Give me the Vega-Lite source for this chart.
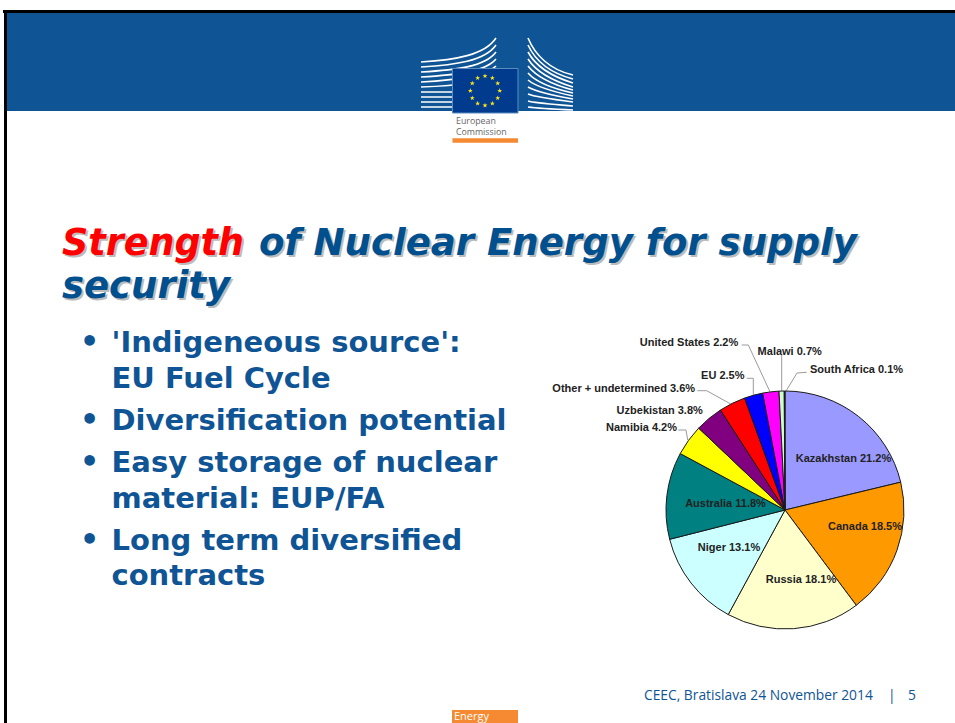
{
"$schema":"https://vega.github.io/schema/vega-lite/v6.json",
"width":955,"height":723,"padding":0,"autosize":{"type":"none"},"background":"white",
"config":{"view":{"stroke":null},"axis":{"disable":true},"text":{"font":"DejaVu Sans"}},
"datasets":{"one":[{"slide":"CEEC 2014"}],
"shares":[
{"rank":1,"country":"Kazakhstan","share":21.2,"label":"Kazakhstan 21.2%"},
{"rank":2,"country":"Canada","share":18.5,"label":"Canada 18.5%"},
{"rank":3,"country":"Russia","share":18.1,"label":"Russia 18.1%"},
{"rank":4,"country":"Niger","share":13.1,"label":"Niger 13.1%"},
{"rank":5,"country":"Australia","share":11.8,"label":"Australia 11.8%"},
{"rank":6,"country":"Namibia","share":4.2,"label":"Namibia 4.2%"},
{"rank":7,"country":"Uzbekistan","share":3.8,"label":"Uzbekistan 3.8%"},
{"rank":8,"country":"Other + undetermined","share":3.6,"label":"Other + undetermined 3.6%"},
{"rank":9,"country":"EU","share":2.5,"label":"EU 2.5%"},
{"rank":10,"country":"United States","share":2.2,"label":"United States 2.2%"},
{"rank":11,"country":"Malawi","share":0.7,"label":"Malawi 0.7%"},
{"rank":12,"country":"South Africa","share":0.1,"label":"South Africa 0.1%"}
]},
"data":{"name":"one"},
"layer":[
{"mark":{"type":"rect","fill":"#0f5494"},"encoding":{"x":{"datum":6,"type":"quantitative","scale":{"domain":[0,955],"range":[0,955],"nice":false,"zero":false}},"x2":{"datum":955},"y":{"datum":13,"type":"quantitative","scale":{"domain":[0,723],"range":[0,723],"nice":false,"zero":false}},"y2":{"datum":111}}},
{"mark":{"type":"rect","fill":"black"},"encoding":{"x":{"datum":3,"type":"quantitative"},"x2":{"datum":955},"y":{"datum":10,"type":"quantitative"},"y2":{"datum":13}}},
{"mark":{"type":"rect","fill":"black"},"encoding":{"x":{"datum":4,"type":"quantitative"},"x2":{"datum":7},"y":{"datum":10,"type":"quantitative"},"y2":{"datum":723}}},
{"mark":{"type":"point","filled":false,"opacity":1,"stroke":"white","strokeWidth":1.6,"size":4,"shape":"M421,62C455,60 485,55 496,38M421,67C455,65 485,61 496,45M421,72C455,70 485,67 496,52M421,77C455,75 485,72 496,59M421,82C455,80 485,77 496,66M421,87C455,86 485,82 496,73M421,92H452M421,97H452M421,102H452M421,107H452M528,38C535,55 550,70 573,75M528,45C535,60 550,73 573,79M528,52C535,65 550,76 573,83M528,59C535,70 550,80 573,87M528,66C535,75 550,84 573,90M528,73C535,81 550,88 573,93M528,80C535,86 550,91 573,96M528,87C535,91 550,95 573,99M528,94C535,97 550,99 573,102M528,101C535,103 550,104 573,106M528,107C535,108 550,109 573,110"},"encoding":{"x":{"datum":0,"type":"quantitative"},"y":{"datum":0,"type":"quantitative"}}},
{"mark":{"type":"rect","fill":"#003b8e","stroke":"#5a8cc0","strokeWidth":1},"encoding":{"x":{"datum":452.5,"type":"quantitative"},"x2":{"datum":518},"y":{"datum":68.5,"type":"quantitative"},"y2":{"datum":113}}},
{"mark":{"type":"point","filled":true,"opacity":1,"fill":"#ffe81a","strokeWidth":0,"size":4,"shape":"M0,-17.3l.6,1.8 1.9,0 -1.5,1.1 .6,1.8 -1.6,-1.1 -1.6,1.1 .6,-1.8 -1.5,-1.1 1.9,0zM7.35,-15.33l.6,1.8 1.9,0 -1.5,1.1 .6,1.8 -1.6,-1.1 -1.6,1.1 .6,-1.8 -1.5,-1.1 1.9,0zM12.73,-9.95l.6,1.8 1.9,0 -1.5,1.1 .6,1.8 -1.6,-1.1 -1.6,1.1 .6,-1.8 -1.5,-1.1 1.9,0zM14.7,-2.6l.6,1.8 1.9,0 -1.5,1.1 .6,1.8 -1.6,-1.1 -1.6,1.1 .6,-1.8 -1.5,-1.1 1.9,0zM12.73,4.75l.6,1.8 1.9,0 -1.5,1.1 .6,1.8 -1.6,-1.1 -1.6,1.1 .6,-1.8 -1.5,-1.1 1.9,0zM7.35,10.13l.6,1.8 1.9,0 -1.5,1.1 .6,1.8 -1.6,-1.1 -1.6,1.1 .6,-1.8 -1.5,-1.1 1.9,0zM0,12.1l.6,1.8 1.9,0 -1.5,1.1 .6,1.8 -1.6,-1.1 -1.6,1.1 .6,-1.8 -1.5,-1.1 1.9,0zM-7.35,10.13l.6,1.8 1.9,0 -1.5,1.1 .6,1.8 -1.6,-1.1 -1.6,1.1 .6,-1.8 -1.5,-1.1 1.9,0zM-12.73,4.75l.6,1.8 1.9,0 -1.5,1.1 .6,1.8 -1.6,-1.1 -1.6,1.1 .6,-1.8 -1.5,-1.1 1.9,0zM-14.7,-2.6l.6,1.8 1.9,0 -1.5,1.1 .6,1.8 -1.6,-1.1 -1.6,1.1 .6,-1.8 -1.5,-1.1 1.9,0zM-12.73,-9.95l.6,1.8 1.9,0 -1.5,1.1 .6,1.8 -1.6,-1.1 -1.6,1.1 .6,-1.8 -1.5,-1.1 1.9,0zM-7.35,-15.33l.6,1.8 1.9,0 -1.5,1.1 .6,1.8 -1.6,-1.1 -1.6,1.1 .6,-1.8 -1.5,-1.1 1.9,0z"},"encoding":{"x":{"datum":485,"type":"quantitative"},"y":{"datum":90.7,"type":"quantitative"}}},
{"mark":{"type":"text","align":"left","baseline":"alphabetic","font":"Open Sans","fontSize":8.8,"fill":"#666666"},"encoding":{"x":{"datum":456,"type":"quantitative"},"y":{"datum":124,"type":"quantitative"},"text":{"value":"European"}}},
{"mark":{"type":"text","align":"left","baseline":"alphabetic","font":"Open Sans","fontSize":8.8,"fill":"#666666"},"encoding":{"x":{"datum":456,"type":"quantitative"},"y":{"datum":135,"type":"quantitative"},"text":{"value":"Commission"}}},
{"mark":{"type":"rect","fill":"#f58a32"},"encoding":{"x":{"datum":452.5,"type":"quantitative"},"x2":{"datum":518},"y":{"datum":138.3,"type":"quantitative"},"y2":{"datum":142.7}}},

{"mark":{"type":"text","align":"left","baseline":"alphabetic","fontSize":36.5,"fontWeight":"bold","fontStyle":"italic","fill":"#bcbcbc","dx":2,"dy":2},"encoding":{"x":{"datum":62,"type":"quantitative"},"y":{"datum":255,"type":"quantitative"},"text":{"value":"Strength"}}},
{"mark":{"type":"text","align":"left","baseline":"alphabetic","fontSize":37.1,"fontWeight":"bold","fontStyle":"italic","fill":"#bcbcbc","dx":2,"dy":2},"encoding":{"x":{"datum":259,"type":"quantitative"},"y":{"datum":255,"type":"quantitative"},"text":{"value":"of Nuclear Energy for supply"}}},
{"mark":{"type":"text","align":"left","baseline":"alphabetic","fontSize":37,"fontWeight":"bold","fontStyle":"italic","fill":"#bcbcbc","dx":2,"dy":2},"encoding":{"x":{"datum":62,"type":"quantitative"},"y":{"datum":298,"type":"quantitative"},"text":{"value":"security"}}},
{"mark":{"type":"text","align":"left","baseline":"alphabetic","fontSize":36.5,"fontWeight":"bold","fontStyle":"italic","fill":"#ff0000"},"encoding":{"x":{"datum":62,"type":"quantitative"},"y":{"datum":255,"type":"quantitative"},"text":{"value":"Strength"}}},
{"mark":{"type":"text","align":"left","baseline":"alphabetic","fontSize":37.1,"fontWeight":"bold","fontStyle":"italic","fill":"#00508f"},"encoding":{"x":{"datum":259,"type":"quantitative"},"y":{"datum":255,"type":"quantitative"},"text":{"value":"of Nuclear Energy for supply"}}},
{"mark":{"type":"text","align":"left","baseline":"alphabetic","fontSize":37,"fontWeight":"bold","fontStyle":"italic","fill":"#00508f"},"encoding":{"x":{"datum":62,"type":"quantitative"},"y":{"datum":298,"type":"quantitative"},"text":{"value":"security"}}},

{"mark":{"type":"text","align":"left","baseline":"alphabetic","fontSize":30,"fontWeight":"bold","fill":"#0f5494"},"encoding":{"x":{"datum":80,"type":"quantitative"},"y":{"datum":352,"type":"quantitative"},"text":{"value":"•"}}},
{"mark":{"type":"text","align":"left","baseline":"alphabetic","fontSize":30,"fontWeight":"bold","fill":"#0f5494"},"encoding":{"x":{"datum":80,"type":"quantitative"},"y":{"datum":430,"type":"quantitative"},"text":{"value":"•"}}},
{"mark":{"type":"text","align":"left","baseline":"alphabetic","fontSize":30,"fontWeight":"bold","fill":"#0f5494"},"encoding":{"x":{"datum":80,"type":"quantitative"},"y":{"datum":472,"type":"quantitative"},"text":{"value":"•"}}},
{"mark":{"type":"text","align":"left","baseline":"alphabetic","fontSize":30,"fontWeight":"bold","fill":"#0f5494"},"encoding":{"x":{"datum":80,"type":"quantitative"},"y":{"datum":550,"type":"quantitative"},"text":{"value":"•"}}},
{"mark":{"type":"text","align":"left","baseline":"alphabetic","fontSize":29,"fontWeight":"bold","fill":"#0f5494"},"encoding":{"x":{"datum":111.5,"type":"quantitative"},"y":{"datum":352,"type":"quantitative"},"text":{"value":"'Indigeneous source':"}}},
{"mark":{"type":"text","align":"left","baseline":"alphabetic","fontSize":29,"fontWeight":"bold","fill":"#0f5494"},"encoding":{"x":{"datum":111.5,"type":"quantitative"},"y":{"datum":388,"type":"quantitative"},"text":{"value":"EU Fuel Cycle"}}},
{"mark":{"type":"text","align":"left","baseline":"alphabetic","fontSize":29,"fontWeight":"bold","fill":"#0f5494"},"encoding":{"x":{"datum":111.5,"type":"quantitative"},"y":{"datum":430,"type":"quantitative"},"text":{"value":"Diversification potential"}}},
{"mark":{"type":"text","align":"left","baseline":"alphabetic","fontSize":29,"fontWeight":"bold","fill":"#0f5494"},"encoding":{"x":{"datum":111.5,"type":"quantitative"},"y":{"datum":472,"type":"quantitative"},"text":{"value":"Easy storage of nuclear"}}},
{"mark":{"type":"text","align":"left","baseline":"alphabetic","fontSize":29,"fontWeight":"bold","fill":"#0f5494"},"encoding":{"x":{"datum":111.5,"type":"quantitative"},"y":{"datum":508,"type":"quantitative"},"text":{"value":"material: EUP/FA"}}},
{"mark":{"type":"text","align":"left","baseline":"alphabetic","fontSize":29,"fontWeight":"bold","fill":"#0f5494"},"encoding":{"x":{"datum":111.5,"type":"quantitative"},"y":{"datum":550,"type":"quantitative"},"text":{"value":"Long term diversified"}}},
{"mark":{"type":"text","align":"left","baseline":"alphabetic","fontSize":29,"fontWeight":"bold","fill":"#0f5494"},"encoding":{"x":{"datum":111.5,"type":"quantitative"},"y":{"datum":585,"type":"quantitative"},"text":{"value":"contracts"}}},

{"mark":{"type":"point","filled":false,"opacity":1,"stroke":"#9a9a9a","strokeWidth":1,"size":4,"shape":"M741.7,345H748.3L770.7,393.3M781.7,355V393M806.7,372.3L797,373L785,392.7M746.7,378.3H753.3V396M697.3,390.7H706.7L730.7,404M678.3,430H686L687.7,440"},"encoding":{"x":{"datum":0,"type":"quantitative"},"y":{"datum":0,"type":"quantitative"}}},

{"data":{"name":"shares"},"mark":{"type":"arc","outerRadius":119,"stroke":"#1a1a1a","strokeWidth":1},"encoding":{
"x":{"datum":785,"type":"quantitative"},"y":{"datum":510,"type":"quantitative"},
"theta":{"field":"share","type":"quantitative","stack":true},
"order":{"field":"rank","type":"quantitative"},
"color":{"field":"country","type":"nominal","legend":null,"scale":{"domain":["Kazakhstan","Canada","Russia","Niger","Australia","Namibia","Uzbekistan","Other + undetermined","EU","United States","Malawi","South Africa"],"range":["#9999ff","#ff9900","#ffffcc","#ccffff","#008080","#ffff00","#800080","#ff0000","#0000ff","#ff00ff","#ccffcc","#333333"]}}}},

{"data":{"name":"shares"},"transform":[{"filter":{"field":"rank","equal":1}}],"mark":{"type":"text","font":"Liberation Sans","fontWeight":"bold","fontSize":11,"fill":"#222222"},"encoding":{"x":{"datum":843.5,"type":"quantitative"},"y":{"datum":459.3,"type":"quantitative"},"text":{"field":"label"}}},
{"data":{"name":"shares"},"transform":[{"filter":{"field":"rank","equal":2}}],"mark":{"type":"text","font":"Liberation Sans","fontWeight":"bold","fontSize":11,"fill":"#222222"},"encoding":{"x":{"datum":865,"type":"quantitative"},"y":{"datum":527.3,"type":"quantitative"},"text":{"field":"label"}}},
{"data":{"name":"shares"},"transform":[{"filter":{"field":"rank","equal":3}}],"mark":{"type":"text","font":"Liberation Sans","fontWeight":"bold","fontSize":11,"fill":"#222222"},"encoding":{"x":{"datum":801,"type":"quantitative"},"y":{"datum":580,"type":"quantitative"},"text":{"field":"label"}}},
{"data":{"name":"shares"},"transform":[{"filter":{"field":"rank","equal":4}}],"mark":{"type":"text","font":"Liberation Sans","fontWeight":"bold","fontSize":11,"fill":"#222222"},"encoding":{"x":{"datum":729,"type":"quantitative"},"y":{"datum":548,"type":"quantitative"},"text":{"field":"label"}}},
{"data":{"name":"shares"},"transform":[{"filter":{"field":"rank","equal":5}}],"mark":{"type":"text","font":"Liberation Sans","fontWeight":"bold","fontSize":11,"fill":"#222222"},"encoding":{"x":{"datum":725.5,"type":"quantitative"},"y":{"datum":503.7,"type":"quantitative"},"text":{"field":"label"}}},
{"data":{"name":"shares"},"transform":[{"filter":{"field":"rank","equal":6}}],"mark":{"type":"text","font":"Liberation Sans","fontWeight":"bold","fontSize":11,"fill":"#222222"},"encoding":{"x":{"datum":641.5,"type":"quantitative"},"y":{"datum":428,"type":"quantitative"},"text":{"field":"label"}}},
{"data":{"name":"shares"},"transform":[{"filter":{"field":"rank","equal":7}}],"mark":{"type":"text","font":"Liberation Sans","fontWeight":"bold","fontSize":11,"fill":"#222222"},"encoding":{"x":{"datum":659.7,"type":"quantitative"},"y":{"datum":411,"type":"quantitative"},"text":{"field":"label"}}},
{"data":{"name":"shares"},"transform":[{"filter":{"field":"rank","equal":8}}],"mark":{"type":"text","font":"Liberation Sans","fontWeight":"bold","fontSize":11,"fill":"#222222"},"encoding":{"x":{"datum":623.7,"type":"quantitative"},"y":{"datum":388.7,"type":"quantitative"},"text":{"field":"label"}}},
{"data":{"name":"shares"},"transform":[{"filter":{"field":"rank","equal":9}}],"mark":{"type":"text","font":"Liberation Sans","fontWeight":"bold","fontSize":11,"fill":"#222222"},"encoding":{"x":{"datum":722.8,"type":"quantitative"},"y":{"datum":375.7,"type":"quantitative"},"text":{"field":"label"}}},
{"data":{"name":"shares"},"transform":[{"filter":{"field":"rank","equal":10}}],"mark":{"type":"text","font":"Liberation Sans","fontWeight":"bold","fontSize":11,"fill":"#222222"},"encoding":{"x":{"datum":689,"type":"quantitative"},"y":{"datum":342.7,"type":"quantitative"},"text":{"field":"label"}}},
{"data":{"name":"shares"},"transform":[{"filter":{"field":"rank","equal":11}}],"mark":{"type":"text","font":"Liberation Sans","fontWeight":"bold","fontSize":11,"fill":"#222222"},"encoding":{"x":{"datum":789.7,"type":"quantitative"},"y":{"datum":351.7,"type":"quantitative"},"text":{"field":"label"}}},
{"data":{"name":"shares"},"transform":[{"filter":{"field":"rank","equal":12}}],"mark":{"type":"text","font":"Liberation Sans","fontWeight":"bold","fontSize":11,"fill":"#222222"},"encoding":{"x":{"datum":856.5,"type":"quantitative"},"y":{"datum":370,"type":"quantitative"},"text":{"field":"label"}}},

{"mark":{"type":"text","align":"left","baseline":"alphabetic","font":"Open Sans","fontSize":13.8,"fill":"#0f5494"},"encoding":{"x":{"datum":644,"type":"quantitative"},"y":{"datum":700,"type":"quantitative"},"text":{"value":"CEEC, Bratislava 24 November 2014"}}},
{"mark":{"type":"text","align":"left","baseline":"alphabetic","font":"Open Sans","fontSize":13.8,"fill":"#0f5494"},"encoding":{"x":{"datum":888,"type":"quantitative"},"y":{"datum":700,"type":"quantitative"},"text":{"value":"|"}}},
{"mark":{"type":"text","align":"left","baseline":"alphabetic","font":"Open Sans","fontSize":13.8,"fill":"#0f5494"},"encoding":{"x":{"datum":908,"type":"quantitative"},"y":{"datum":700,"type":"quantitative"},"text":{"value":"5"}}},
{"mark":{"type":"rect","fill":"#f58a32"},"encoding":{"x":{"datum":452,"type":"quantitative"},"x2":{"datum":518},"y":{"datum":710,"type":"quantitative"},"y2":{"datum":723}}},
{"mark":{"type":"text","align":"left","baseline":"alphabetic","font":"Open Sans","fontSize":11,"fill":"white"},"encoding":{"x":{"datum":454,"type":"quantitative"},"y":{"datum":720,"type":"quantitative"},"text":{"value":"Energy"}}}
]
}
